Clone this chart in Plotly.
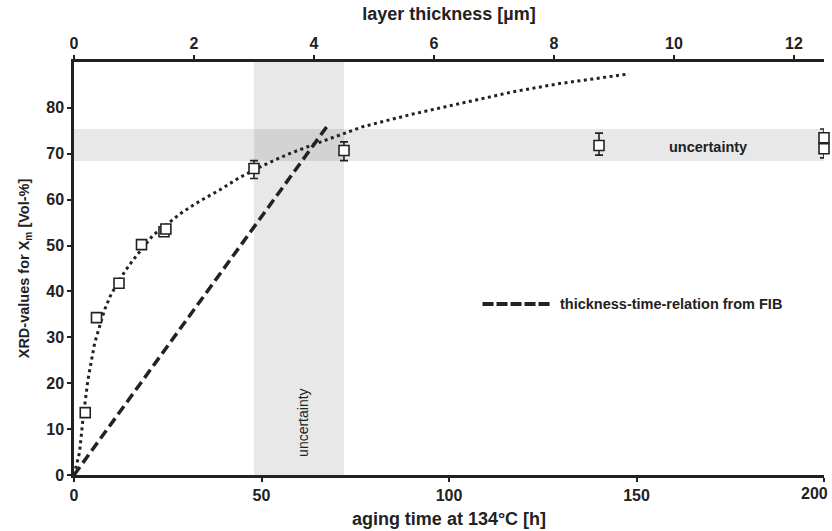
import plotly.graph_objects as go

# XRD measurements (aging time in h, X_m in Vol-%) with asymmetric error bars
aging_h = [3, 6, 12, 18, 24, 24.5, 48, 72, 140, 200, 200]
xrd_vol = [13.6, 34.3, 41.8, 50.2, 53.0, 53.6, 66.8, 70.7, 71.8, 73.5, 71.1]
err_plus = [0, 0, 0, 0, 0, 0, 1.7, 1.9, 2.7, 1.9, 0]
err_minus = [0, 0, 0, 0, 0, 0, 2.2, 2.2, 2.1, 0, 2.0]

# fitted growth curve (dotted)
fit_h = [0, 0.7, 1.5, 2.3, 2.9, 3.7, 4.6, 5.5, 6.8, 8.1, 9.9, 12, 13.5, 15.7, 18.3,
         21, 24.6, 28.1, 31, 34, 38.8, 44.1, 50.3, 57, 65.5, 77, 90, 102.8, 117,
         129.5, 148]
fit_vol = [0, 2.2, 5.0, 11.5, 16.0, 20.7, 24.7, 28.7, 32.3, 35.9, 39.4, 42.3, 44.3,
           46.8, 49.4, 52.2, 54.5, 56.8, 58.4, 59.9, 62.1, 64.8, 67.4, 69.9, 72.5,
           75.9, 78.6, 81.0, 83.5, 85.3, 87.4]

# thickness-time relation from FIB (straight line)
fib_h = [0, 67.5]
fib_vol = [0, 76]

# uncertainty bands
band_time = (48, 72)
band_vol = (68.4, 75.4)

# axis ticks; the last bottom label is placed separately, right-aligned at its tick
x_ticks = [0, 50, 100, 150, 200]
x_labels = ["0", "50", "100", "150", ""]
x_last_label = "200"
x2_ticks = [0, 2, 4, 6, 8, 10, 12]
y_ticks = [0, 10, 20, 30, 40, 50, 60, 70, 80]

FONT = "Liberation Sans"
INK = "#222222"

fig = go.Figure()

fig.add_trace(go.Scatter(
    x=fit_h, y=fit_vol, mode="lines",
    line=dict(color=INK, width=3, dash="3px,3.5px"),
    showlegend=False, hoverinfo="skip"))

fig.add_trace(go.Scatter(
    x=fib_h, y=fib_vol, mode="lines",
    line=dict(color=INK, width=3.5, dash="10px,5px"),
    name="thickness-time-relation from FIB", showlegend=False))

fig.add_trace(go.Scatter(
    x=aging_h, y=xrd_vol, mode="markers",
    marker=dict(symbol="square", size=10, color="white",
                line=dict(color=INK, width=1.6)),
    error_y=dict(type="data", array=err_plus, arrayminus=err_minus,
                 color=INK, thickness=1.6, width=4),
    cliponaxis=False, showlegend=False))

# empty trace so the top (layer thickness) axis gets drawn
fig.add_trace(go.Scatter(x=[], y=[], xaxis="x2", yaxis="y", showlegend=False,
                         hoverinfo="skip"))

# gray uncertainty bands
fig.add_shape(type="rect", xref="x", yref="paper", x0=band_time[0], x1=band_time[1],
              y0=0, y1=1, fillcolor="rgba(0,0,0,0.09)", line_width=0, layer="below")
fig.add_shape(type="rect", xref="paper", yref="y", x0=0, x1=1,
              y0=band_vol[0], y1=band_vol[1], fillcolor="rgba(0,0,0,0.09)",
              line_width=0, layer="below")

# legend entry for the FIB line
fig.add_shape(type="line", xref="paper", yref="paper", x0=0.5447, x1=0.6367,
              y0=0.414, y1=0.414, line=dict(color=INK, width=4, dash="11px,3px"))
fig.add_annotation(xref="paper", yref="paper", x=0.645, y=0.414,
                   text="thickness-time-relation from FIB", showarrow=False,
                   xanchor="left", yanchor="middle",
                   font=dict(family=FONT, size=14.5, color=INK, weight="bold"))

fig.add_annotation(x=169, y=71.4, text="uncertainty", showarrow=False,
                   font=dict(family=FONT, size=14.5, color=INK, weight="bold"))
fig.add_annotation(x=61, y=11.3, text="uncertainty", showarrow=False, textangle=-90,
                   font=dict(family=FONT, size=14, color=INK))

tickfont = dict(family=FONT, size=16, color=INK, weight="bold")
titlefont = dict(family=FONT, size=18, color=INK, weight="bold")

# last bottom tick label, kept inside the page edge
fig.add_annotation(x=x_ticks[-1], y=0, yref="y", text=x_last_label, showarrow=False,
                   xanchor="right", yanchor="top", xshift=6, yshift=-8,
                   font=tickfont)

axis_common = dict(showline=True, linecolor=INK, linewidth=2.5, ticks="outside",
                   ticklen=4, tickwidth=2, tickcolor=INK, showgrid=False,
                   zeroline=False, tickfont=tickfont, ticklabeloverflow="allow",
                   automargin=False)

fig.update_layout(
    width=832, height=531,
    margin=dict(l=74, r=8, t=62, b=56),
    plot_bgcolor="white", paper_bgcolor="white",
    xaxis=dict(range=[0, 200], tickvals=x_ticks, ticktext=x_labels,
               title=dict(text="aging time at 134°C [h]", font=titlefont, standoff=10),
               **axis_common),
    xaxis2=dict(range=[0, 12.5], tickvals=x2_ticks, overlaying="x", side="top",
                anchor="y",
                title=dict(text="layer thickness [µm]", font=titlefont, standoff=10),
                **axis_common),
    yaxis=dict(range=[0, 90], tickvals=y_ticks,
               title=dict(text="XRD-values for X<sub>m</sub> [Vol-%]",
                          font=dict(family=FONT, size=14.5, color=INK, weight="bold"),
                          standoff=14),
               **axis_common),
)

fig.write_html("out.html")
